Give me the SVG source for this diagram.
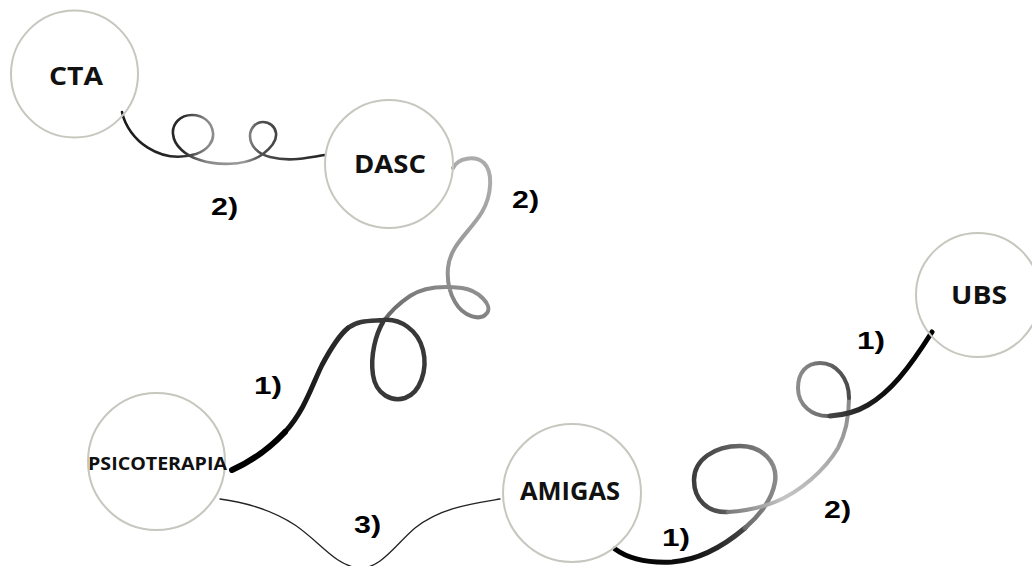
<svg xmlns="http://www.w3.org/2000/svg" width="1032" height="566" viewBox="0 0 1032 566">
  <style>
    .ring { fill: none; stroke: #c6c7bf; stroke-width: 2; }
    .lbl { font-family: "Open Sans", "DejaVu Sans", sans-serif; font-weight: 700; fill: #111; text-anchor: middle; }
    .el { font-family: "Liberation Sans", Arial, sans-serif; font-weight: 700; font-size: 24px; fill: #000; }
    .c { fill: none; stroke-linecap: round; stroke-linejoin: round; }
  </style>
  <defs>
    <linearGradient id="gCta" gradientUnits="userSpaceOnUse" x1="122" y1="0" x2="325" y2="0">
      <stop offset="0" stop-color="#1a1a1a"/>
      <stop offset="0.3" stop-color="#2a2a2a"/>
      <stop offset="0.42" stop-color="#8a8a8a"/>
      <stop offset="0.6" stop-color="#9a9a9a"/>
      <stop offset="0.68" stop-color="#505050"/>
      <stop offset="1" stop-color="#222"/>
    </linearGradient>
    <linearGradient id="gDasc" gradientUnits="userSpaceOnUse" x1="470" y1="170" x2="400" y2="320">
      <stop offset="0" stop-color="#ababab"/>
      <stop offset="0.6" stop-color="#959595"/>
      <stop offset="1" stop-color="#6a6a6a"/>
    </linearGradient>
    <linearGradient id="gTail" gradientUnits="userSpaceOnUse" x1="350" y1="328" x2="232" y2="470">
      <stop offset="0" stop-color="#2e2e2e"/>
      <stop offset="1" stop-color="#000"/>
    </linearGradient>
    <linearGradient id="gA" gradientUnits="userSpaceOnUse" x1="615" y1="0" x2="745" y2="0">
      <stop offset="0" stop-color="#000"/>
      <stop offset="0.6" stop-color="#111"/>
      <stop offset="1" stop-color="#444"/>
    </linearGradient>
    <linearGradient id="gB" gradientUnits="userSpaceOnUse" x1="694" y1="0" x2="776" y2="0">
      <stop offset="0" stop-color="#3c3c3c"/>
      <stop offset="1" stop-color="#8a8a8a"/>
    </linearGradient>
    <linearGradient id="gC" gradientUnits="userSpaceOnUse" x1="728" y1="512" x2="849" y2="398">
      <stop offset="0" stop-color="#7a7a7a"/>
      <stop offset="0.3" stop-color="#c4c4c4"/>
      <stop offset="0.6" stop-color="#b0b0b0"/>
      <stop offset="1" stop-color="#888"/>
    </linearGradient>
    <linearGradient id="gD" gradientUnits="userSpaceOnUse" x1="798" y1="0" x2="849" y2="0">
      <stop offset="0" stop-color="#8c8c8c"/>
      <stop offset="1" stop-color="#4a4a4a"/>
    </linearGradient>
    <linearGradient id="gE" gradientUnits="userSpaceOnUse" x1="830" y1="0" x2="932" y2="0">
      <stop offset="0" stop-color="#444"/>
      <stop offset="0.5" stop-color="#111"/>
      <stop offset="1" stop-color="#000"/>
    </linearGradient>
  </defs>

  <g id="connectors">
    <!-- CTA - DASC -->
    <path class="c" stroke="url(#gCta)" stroke-width="2.6" d="M122,112 C128,140 160,165 196,154 C208,150 214,141 213,133 C212,122 203,115 192,115 C180,115 172,124 173,134 C174,146 186,156 200,160 C215,165 245,167 263,154 C272,147 277,140 276,133 C275,126 269,122 263,122 C256,122 250,128 250,136 C250,146 258,154 270,157 C290,162 305,158 325,155"/>
    <!-- DASC - PSICOTERAPIA -->
    <path class="c" stroke="url(#gDasc)" stroke-width="4" d="M453,168 C458,158 475,155 484,163 C493,172 492,195 482,212 C470,232 450,245 448,268 C447,280 449,292 455,302 C463,316 480,322 487,313 C493,305 478,290 462,288 C445,286 425,286 410,296 C398,304 390,312 383,322"/>
    <path class="c" stroke="#383838" stroke-width="4.5" d="M383,322 C376,334 370,355 373,375 C376,395 392,402 405,398 C420,393 428,370 423,350 C418,330 400,318 383,320 C370,321 358,320 348,328"/>
    <path class="c" stroke="url(#gTail)" stroke-width="5" d="M348,328 C338,336 330,350 322,365 C312,385 305,410 285,432"/>
    <path class="c" stroke="#000" stroke-width="6" d="M285,432 C268,450 250,462 232,470"/>
    <!-- PSICOTERAPIA - AMIGAS -->
    <path class="c" stroke="#222" stroke-width="1.3" d="M220,499 C250,503 275,512 295,525 C320,542 335,565 358,568 C380,570 395,545 415,528 C440,508 470,504 500,499"/>
    <!-- AMIGAS - UBS -->
    <path class="c" stroke="url(#gA)" stroke-width="5" d="M615,549 C630,560 650,563 672,562 C700,560 725,545 745,528"/>
    <path class="c" stroke="url(#gB)" stroke-width="4.5" d="M745,528 C760,515 772,500 775,482 C778,462 762,446 740,446 C714,446 694,460 694,480 C694,500 708,513 728,512"/>
    <path class="c" stroke="url(#gC)" stroke-width="4" d="M728,512 C745,511 760,508 775,502 C800,492 825,470 838,448 C846,433 849,415 849,398"/>
    <path class="c" stroke="url(#gD)" stroke-width="4" d="M849,398 C849,378 836,363 820,363 C806,363 798,373 798,388 C798,405 812,417 830,416"/>
    <path class="c" stroke="url(#gE)" stroke-width="5" d="M830,416 C845,415 858,411 868,405 C890,392 908,370 932,332"/>

    <g id="edge-labels">
      <text class="el" x="211" y="215" textLength="27" lengthAdjust="spacingAndGlyphs">2)</text>
      <text class="el" x="512" y="208" textLength="27" lengthAdjust="spacingAndGlyphs">2)</text>
      <text class="el" x="254" y="394" textLength="28" lengthAdjust="spacingAndGlyphs">1)</text>
      <text class="el" x="354" y="533" textLength="27" lengthAdjust="spacingAndGlyphs">3)</text>
      <text class="el" x="662" y="546" textLength="28" lengthAdjust="spacingAndGlyphs">1)</text>
      <text class="el" x="824" y="518" textLength="27" lengthAdjust="spacingAndGlyphs">2)</text>
      <text class="el" x="857" y="349" textLength="28" lengthAdjust="spacingAndGlyphs">1)</text>
    </g>
  </g>

  <g id="node-cta">
    <circle class="ring" cx="74.5" cy="74" r="63.5"/>
    <text class="lbl" x="76" y="85" font-size="25" textLength="54" lengthAdjust="spacingAndGlyphs">CTA</text>
  </g>
  <g id="node-dasc">
    <circle class="ring" cx="389" cy="164" r="64"/>
    <text class="lbl" x="390" y="173" font-size="25" textLength="72" lengthAdjust="spacingAndGlyphs">DASC</text>
  </g>
  <g id="node-psicoterapia">
    <circle class="ring" cx="156.5" cy="461.5" r="68.5"/>
    <text class="lbl" x="157.5" y="470" font-size="18" textLength="139" lengthAdjust="spacingAndGlyphs">PSICOTERAPIA</text>
  </g>
  <g id="node-amigas">
    <circle class="ring" cx="572" cy="493" r="69"/>
    <text class="lbl" x="570" y="500" font-size="25" textLength="100" lengthAdjust="spacingAndGlyphs">AMIGAS</text>
  </g>
  <g id="node-ubs">
    <circle class="ring" cx="978" cy="295" r="62"/>
    <text class="lbl" x="979" y="304" font-size="25" textLength="56" lengthAdjust="spacingAndGlyphs">UBS</text>
  </g>
</svg>
